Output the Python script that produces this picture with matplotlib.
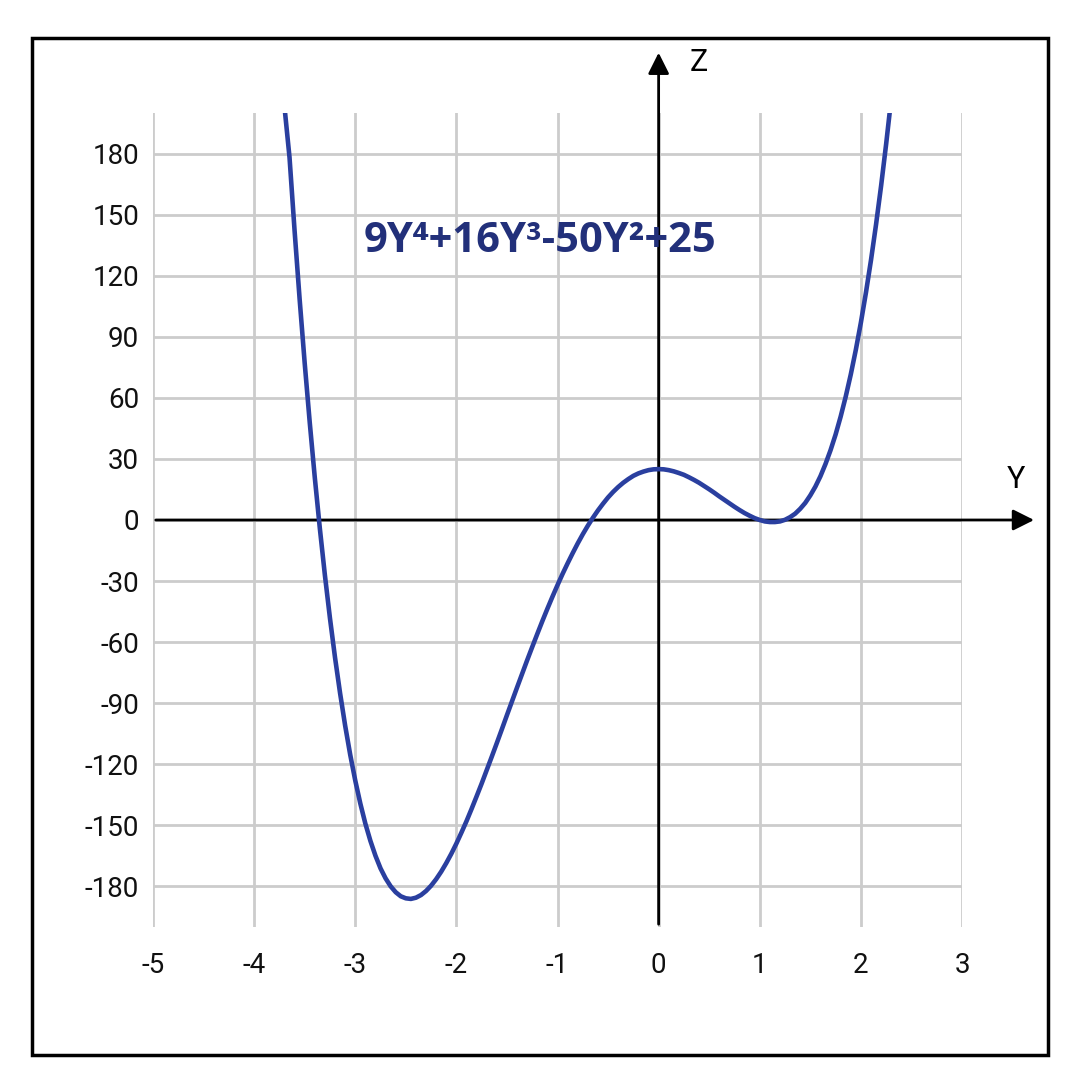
import matplotlib
matplotlib.use('Agg')
import matplotlib.pyplot as plt
from matplotlib.patches import Rectangle

# sample points
y_vals = [-3.70, -3.65, -3.60, -3.55, -3.50, -3.45, -3.40, -3.35, -3.30, -3.25,
          -3.20, -3.15, -3.10, -3.05, -3.00, -2.95, -2.90, -2.85, -2.80, -2.75,
          -2.70, -2.65, -2.60, -2.55, -2.50, -2.45, -2.40, -2.35, -2.30, -2.25,
          -2.20, -2.15, -2.10, -2.05, -2.00, -1.95, -1.90, -1.85, -1.80, -1.75,
          -1.70, -1.65, -1.60, -1.55, -1.50, -1.45, -1.40, -1.35, -1.30, -1.25,
          -1.20, -1.15, -1.10, -1.05, -1.00, -0.95, -0.90, -0.85, -0.80, -0.75,
          -0.70, -0.65, -0.60, -0.55, -0.50, -0.45, -0.40, -0.35, -0.30, -0.25,
          -0.20, -0.15, -0.10, -0.05, 0.00, 0.05, 0.10, 0.15, 0.20, 0.25,
          0.30, 0.35, 0.40, 0.45, 0.50, 0.55, 0.60, 0.65, 0.70, 0.75,
          0.80, 0.85, 0.90, 0.95, 1.00, 1.05, 1.10, 1.15, 1.20, 1.25,
          1.30, 1.35, 1.40, 1.45, 1.50, 1.55, 1.60, 1.65, 1.70, 1.75,
          1.80, 1.85, 1.90, 1.95, 2.00, 2.05, 2.10, 2.15, 2.20, 2.25, 2.30]
z_vals = [203.1, 178.2, 142.2, 108.5, 77.1, 47.9, 20.8, -4.2, -27.2, -48.3,
          -67.6, -85.1, -101.0, -115.3, -128.0, -139.3, -149.2, -157.7, -165.0, -171.2,
          -176.1, -180.0, -182.9, -184.9, -185.9, -186.2, -185.6, -184.3, -182.3, -179.7,
          -176.5, -172.8, -168.6, -164.0, -159.0, -153.6, -148.0, -142.0, -135.8, -129.5,
          -122.9, -116.3, -109.6, -102.8, -95.9, -89.1, -82.3, -75.6, -68.9, -62.4,
          -56.0, -49.7, -43.6, -37.7, -32.0, -26.5, -21.3, -16.3, -11.5, -7.0,
          -2.8, 1.1, 4.7, 8.0, 11.1, 13.8, 16.2, 18.3, 20.1, 21.7,
          22.9, 23.8, 24.5, 24.9, 25.0, 24.9, 24.5, 23.9, 23.1, 22.2,
          21.0, 19.7, 18.3, 16.7, 15.1, 13.4, 11.6, 9.9, 8.2, 6.5,
          4.9, 3.4, 2.1, 0.9, 0.0, -0.7, -1.0, -1.0, -0.7, 0.1,
          1.4, 3.1, 5.5, 8.4, 12.1, 16.4, 21.5, 27.5, 34.3, 42.0,
          50.8, 60.6, 71.5, 83.6, 97.0, 111.7, 127.7, 145.2, 164.2, 184.8, 207.0]

x_ticks = [-5, -4, -3, -2, -1, 0, 1, 2, 3]
z_ticks = [-180, -150, -120, -90, -60, -30, 0, 30, 60, 90, 120, 150, 180]
label = '9Y\u2074+16Y\u00b3-50Y\u00b2+25'

plt.rcParams['font.family'] = ['Roboto', 'DejaVu Sans']

fig = plt.figure(figsize=(10.8, 10.8), dpi=100)
fig.patches.append(Rectangle((32 / 1080, 25 / 1080), 1016 / 1080, 1017 / 1080,
                             transform=fig.transFigure, fill=False,
                             edgecolor='black', linewidth=2.5))

ax = fig.add_axes([153 / 1080, 153 / 1080, 809 / 1080, 814 / 1080])
ax.set_xlim(-5, 3)
ax.set_ylim(-200, 200)
ax.set_xticks(x_ticks)
ax.set_yticks(z_ticks)
ax.set_xticklabels([str(t) for t in x_ticks])
ax.set_yticklabels([str(t) for t in z_ticks])
ax.tick_params(length=0, labelsize=20, colors='#111111')
ax.tick_params(axis='x', pad=18)
ax.tick_params(axis='y', pad=10)
ax.grid(True, color='#cccccc', linewidth=2)
for s in ax.spines.values():
    s.set_visible(False)

ax.plot(y_vals, z_vals, color='#2a3f9f', linewidth=3.3, zorder=4)

# axes with arrows
ax.annotate('', xy=(3.74, 0), xytext=(-5, 0),
            arrowprops=dict(arrowstyle='-|>', color='black', lw=2, mutation_scale=32),
            annotation_clip=False, zorder=3)
ax.annotate('', xy=(0, 231), xytext=(0, -200),
            arrowprops=dict(arrowstyle='-|>', color='black', lw=2, mutation_scale=32),
            annotation_clip=False, zorder=3)
ax.text(3.53, 13, 'Y', fontsize=22, ha='center', va='bottom', clip_on=False)
ax.text(0.4, 225, 'Z', fontsize=22, ha='center', va='center', clip_on=False)

ax.text(-1.17, 137, label, fontsize=30, fontweight='bold', color='#22307a',
        ha='center', va='center', family=['Open Sans', 'DejaVu Sans'])

plt.savefig('out.png', dpi=100)
